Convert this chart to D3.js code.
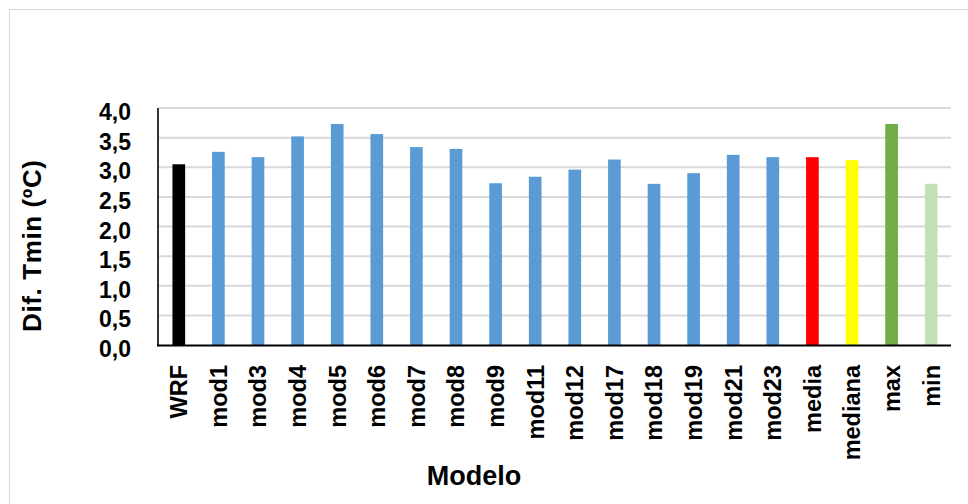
<!DOCTYPE html>
<html>
<head>
<meta charset="utf-8">
<script src="https://cdn.jsdelivr.net/npm/d3@7"></script>
<style>
  html, body { margin: 0; padding: 0; background: #fff; }
  svg { display: block; }
  text { font-family: "Liberation Sans", Arial, sans-serif; font-weight: bold; fill: #000; }
</style>
</head>
<body>
<svg id="chart" width="968" height="504"></svg>
<script>
const categories = ["WRF","mod1","mod3","mod4","mod5","mod6","mod7","mod8","mod9","mod11","mod12","mod17","mod18","mod19","mod21","mod23","media","mediana","max","min"];
const values = [3.05,3.26,3.17,3.52,3.73,3.56,3.34,3.31,2.73,2.84,2.96,3.13,2.72,2.90,3.21,3.17,3.17,3.12,3.73,2.72];
const barColors = ["#000000","#5b9bd5","#5b9bd5","#5b9bd5","#5b9bd5","#5b9bd5","#5b9bd5","#5b9bd5","#5b9bd5","#5b9bd5","#5b9bd5","#5b9bd5","#5b9bd5","#5b9bd5","#5b9bd5","#5b9bd5","#ff0000","#ffff00","#70ad47","#c5e0b4"];
const yTicks = [0,0.5,1,1.5,2,2.5,3,3.5,4];
const yLabel = "Dif. Tmin (ºC)";
const xLabel = "Modelo";

const svg = d3.select("#chart");
const plotLeft = 159, plotRight = 951, plotTop = 108, plotBottom = 345;

// outer chart border
svg.append("rect").attr("x", 9.5).attr("y", 9.5).attr("width", 980).attr("height", 520)
  .attr("fill", "none").attr("stroke", "#d9d9d9").attr("stroke-width", 1);

const x = d3.scaleBand().domain(categories).range([plotLeft, plotRight]).paddingInner(0.68).paddingOuter(0.34);
const y = d3.scaleLinear().domain([0, 4]).range([plotBottom, plotTop]);

// gridlines
svg.append("g").selectAll("line").data(yTicks.filter(d => d > 0)).join("line")
  .attr("x1", plotLeft).attr("x2", plotRight)
  .attr("y1", d => y(d)).attr("y2", d => y(d))
  .attr("stroke", "#d9d9d9").attr("stroke-width", 2);

// bars
svg.append("g").selectAll("rect").data(categories).join("rect")
  .attr("x", d => x(d)).attr("width", x.bandwidth())
  .attr("y", (d, i) => y(values[i])).attr("height", (d, i) => y(0) - y(values[i]))
  .attr("fill", (d, i) => barColors[i]);

// y axis
const yAxis = d3.axisLeft(y).tickValues(yTicks).tickSize(0).tickPadding(0)
  .tickFormat(d => d3.format(".1f")(d).replace(".", ","));
const gy = svg.append("g").attr("transform", `translate(131,0)`).call(yAxis);
gy.select(".domain").remove();
gy.selectAll("text").attr("font-size", 23).attr("font-family", "Liberation Sans, Arial, sans-serif")
  .attr("font-weight", "bold").attr("fill", "#000").attr("dy", "0.5em");

// axis lines
svg.append("line").attr("x1", 158).attr("x2", 158).attr("y1", plotTop).attr("y2", plotBottom + 1)
  .attr("stroke", "#000").attr("stroke-width", 1.6);
svg.append("line").attr("x1", 157).attr("x2", plotRight).attr("y1", 345.5).attr("y2", 345.5)
  .attr("stroke", "#000").attr("stroke-width", 2.2);

// x axis labels (rotated)
const xAxis = d3.axisBottom(x).tickSize(0).tickPadding(0);
const gx = svg.append("g").attr("transform", `translate(0,${plotBottom})`).call(xAxis);
gx.select(".domain").remove();
gx.selectAll("text")
  .attr("font-size", 23.5).attr("font-family", "Liberation Sans, Arial, sans-serif")
  .attr("font-weight", "bold").attr("fill", "#000")
  .attr("text-anchor", "end")
  .attr("transform", "rotate(-90)")
  .attr("x", -20).attr("y", 0).attr("dy", "0.36em");

// axis titles
svg.append("text").attr("x", 474).attr("y", 485).attr("text-anchor", "middle")
  .attr("font-size", 27).text(xLabel);
svg.append("text").attr("transform", "translate(41,246) rotate(-90)")
  .attr("text-anchor", "middle").attr("font-size", 26)
  .attr("textLength", 172).attr("lengthAdjust", "spacing").text(yLabel);
</script>
</body>
</html>
